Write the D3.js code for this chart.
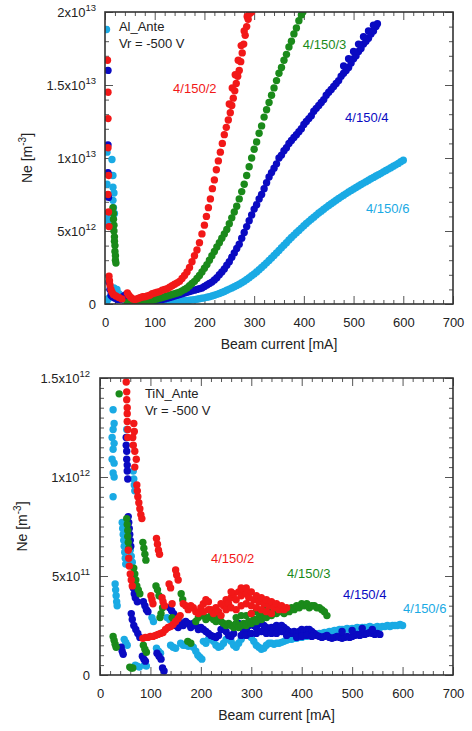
<!DOCTYPE html>
<html>
<head>
<meta charset="utf-8">
<script src="https://cdn.jsdelivr.net/npm/d3@7"></script>
<style>
  body { margin: 0; background: #fff; }
  svg { display: block; }
  text { font-family: "Liberation Sans", Arial, sans-serif; }
</style>
</head>
<body>
<svg id="chart" width="472" height="731"></svg>
<script>
// ---- tick values ----
const xTicks = [0, 100, 200, 300, 400, 500, 600, 700];
const alYTicks = [0, 5e12, 1e13, 1.5e13, 2e13];
const tinYTicks = [0, 5e11, 1e12, 1.5e12];
const seriesNames = ["4/150/2", "4/150/3", "4/150/4", "4/150/6"];

// ---- Al_Ante : [beam current mA, Ne in 1e12 m^-3] ----
const alS2 = [[5,16.7],[6,14.5],[6,12.7],[6,10.7],[7,8.8],[6,7.5],[7,6.3],[8,5.3],
  [8,1.9],[9,1.6],[10,1.3],[12,1.0],[14,0.8],[17,0.65],[22,0.55],[28,0.45],[34,0.35],
  [45,0.75],[48,0.6],[52,0.45],[56,0.35],[60,0.3],[64,0.35],[68,0.4],[72,0.45],[76,0.5],[80,0.5],
  [85,0.55],[90,0.6],[95,0.7],[100,0.75],[105,0.8],[110,0.85],[115,0.95],[120,1.0],[125,1.05],
  [130,1.15],[135,1.25],[140,1.35],[145,1.45],[150,1.55],[155,1.75],[160,1.95],[165,2.2],[170,2.5],
  [175,2.9],[180,3.3],[185,3.7],[190,4.2],[195,4.8],[200,5.4],[204,6.0],[208,6.6],[212,7.2],
  [216,7.9],[220,8.5],[224,9.2],[228,9.8],[232,10.4],[236,11.0],[240,11.6],[244,12.1],[248,12.6],
  [252,13.1],[255,13.6],[258,14.1],[261,14.6],[264,15.1],[267,15.6],[270,16.0],[273,16.6],
  [276,17.2],[279,17.8],[282,18.4],[285,19.0],[288,19.5],[291,19.9],[295,20.0],
  [250,13.7],[256,14.8],[262,15.7],[268,16.7],[274,17.7],[280,18.7],[286,19.7]];

const alS3 = [[16,6.6],[17,6.2],[17,5.8],[18,5.4],[18,5.0],[19,4.6],[19,4.3],[20,4.0],[20,3.6],
  [21,3.3],[21,3.0],[22,2.8],
  [45,0.1],[50,0.0],[55,0.05],[60,0.05],[65,0.05],[70,0.1],[75,0.1],[80,0.15],[85,0.15],[90,0.2],
  [95,0.25],[100,0.3],[105,0.35],[110,0.4],[115,0.45],[120,0.5],[125,0.55],[130,0.6],[135,0.65],
  [140,0.7],[145,0.75],[150,0.8],[155,0.9],[160,1.0],[165,1.1],[170,1.25],[175,1.4],[180,1.55],
  [185,1.75],[190,1.95],[195,2.2],[200,2.45],[205,2.7],[210,3.0],[215,3.3],[220,3.6],[225,3.9],
  [230,4.2],[235,4.5],[240,4.8],[245,5.1],[250,5.5],[255,5.9],[260,6.3],[265,6.7],[270,7.2],
  [275,7.7],[280,8.2],[285,8.8],[290,9.4],[295,10.0],[300,10.6],[305,11.1],[310,11.7],[315,12.2],
  [320,12.8],[325,13.3],[330,13.8],[335,14.3],[340,14.8],[345,15.3],[350,15.8],[355,16.2],
  [360,16.7],[365,17.1],[370,17.6],[375,18.0],[380,18.5],[385,18.9],[390,19.4],[395,19.8],[398,20.0]];

const alS4 = [[6,16.0],[6,10.9],[6,9.0],[7,7.3],
  [8,1.5],[10,1.0],[12,0.6],[15,0.5],[20,0.4],[25,0.3],[30,0.3],[36,0.5],[40,0.6],[44,0.4],
  [48,0.25],[55,0.2],[60,0.15],[65,0.1],[70,0.1],[75,0.1],[80,0.1],[85,0.15],[90,0.15],[95,0.2],
  [100,0.2],[105,0.25],[110,0.3],[115,0.3],[120,0.35],[125,0.4],[130,0.45],[135,0.5],[140,0.55],
  [145,0.6],[150,0.65],[155,0.7],[160,0.75],[165,0.8],[170,0.85],[175,0.9],[180,0.95],[185,1.0],
  [190,1.05],[195,1.1],[200,1.2],[205,1.3],[210,1.4],[215,1.5],[220,1.65],[225,1.8],[230,2.0],
  [235,2.2],[240,2.4],[245,2.65],[250,2.9],[255,3.2],[260,3.5],[265,3.8],[270,4.1],[275,4.5],
  [280,4.9],[285,5.3],[290,5.7],[295,6.1],[300,6.5],[305,6.8],[310,7.2],[315,7.5],[320,7.9],
  [325,8.3],[330,8.7],[335,9.0],[340,9.3],[345,9.6],[350,10.0],[355,10.2],[360,10.5],[365,10.7],
  [370,11.0],[375,11.2],[380,11.4],[385,11.6],[390,11.8],[395,12.0],[400,12.3],[405,12.5],
  [410,12.7],[415,12.9],[420,13.2],[425,13.4],[430,13.6],[435,13.8],[440,14.0],[445,14.3],
  [450,14.5],[455,14.7],[460,14.9],[465,15.1],[470,15.3],[475,15.6],[480,15.8],[485,16.0],
  [490,16.2],[495,16.5],[500,16.8],[505,17.0],[510,17.3],[515,17.5],[520,17.8],[525,18.0],
  [530,18.2],[535,18.5],[540,18.7],[545,19.0],[548,19.2],
  [480,16.3],[490,16.8],[500,17.3],[510,17.8],[520,18.3],[530,18.7],[540,19.1]];

const alS6 = [[3,18.8],[4,10.4],[14,9.9],[16,8.8],[4,8.2],[16,8.0],[18,7.6],[16,7.1],[17,6.6],
  [19,6.2],[4,6.0],[5,5.6],
  [4,0.2],[8,0.4],[14,0.9],[18,1.1],[24,1.0],[28,0.7],[32,0.4],[36,0.3],[40,0.2],[46,0.1],
  [50,0.0],[55,0.02],[60,0.02],[65,0.03],[70,0.03],[75,0.04],[80,0.05],[85,0.06],[90,0.07],
  [95,0.08],[100,0.1],[105,0.11],[110,0.12],[115,0.13],[120,0.14],[125,0.15],[130,0.16],
  [135,0.17],[140,0.18],[145,0.19],[150,0.2],[155,0.21],[160,0.22],[165,0.24],[170,0.26],
  [175,0.28],[180,0.3],[185,0.33],[190,0.36],[195,0.39],[200,0.42],[205,0.46],[210,0.5],
  [215,0.55],[220,0.6],[225,0.66],[230,0.72],[235,0.79],[240,0.86],[245,0.94],[250,1.02],
  [255,1.1],[260,1.18],[265,1.27],[270,1.36],[275,1.46],[280,1.56],[285,1.68],[290,1.8],
  [295,1.93],[300,2.06],[305,2.2],[310,2.35],[315,2.5],[320,2.66],[325,2.82],[330,2.98],
  [335,3.15],[340,3.32],[345,3.5],[350,3.67],[355,3.85],[360,4.02],[365,4.2],[370,4.38],
  [375,4.55],[380,4.72],[385,4.88],[390,5.04],[395,5.2],[400,5.36],[405,5.51],[410,5.66],
  [415,5.8],[420,5.95],[425,6.09],[430,6.23],[435,6.36],[440,6.49],[445,6.62],[450,6.75],
  [455,6.87],[460,6.99],[465,7.11],[470,7.23],[475,7.34],[480,7.45],[485,7.56],[490,7.67],
  [495,7.78],[500,7.88],[505,7.98],[510,8.08],[515,8.18],[520,8.28],[525,8.38],[530,8.48],
  [535,8.58],[540,8.67],[545,8.77],[550,8.86],[555,8.95],[560,9.05],[565,9.14],[570,9.24],
  [575,9.33],[580,9.43],[585,9.53],[590,9.63],[595,9.75],[600,9.85]];

// ---- TiN_Ante : [beam current mA, Ne in 1e11 m^-3] ----
const tinS2 = [[52,14.8],[53,14.3],[53,13.9],[54,13.5],[54,13.2],[54,12.8],[55,12.4],[55,12.0],
  [67,12.7],[68,12.3],[65,12.0],[66,11.6],[69,11.3],[72,10.9],[69,10.5],
  [73,9.6],[74,9.3],[75,9.0],[77,8.7],[79,8.4],[81,8.1],[83,7.9],
  [56,6.3],[57,5.9],[58,5.5],[60,5.1],[62,4.8],[64,4.5],
  [112,6.9],[114,6.6],[116,6.3],[118,6.1],
  [150,5.3],[152,5.05],[155,4.8],[137,4.6],[140,4.4],
  [101,4.0],[103,3.8],[105,3.6],[123,3.9],[125,3.7],[128,3.5],
  [85,1.85],[90,1.9],[95,1.9],[100,1.95],[105,1.95],[110,2.0],[115,2.05],[120,2.1],[125,2.15],
  [130,2.3],[135,2.4],[140,2.45],[145,2.55],[150,2.7],[155,2.85],[159,3.0],
  [143,3.6],[165,3.6],[170,3.5],
  [175,3.3],[180,3.5],[185,3.4],[190,3.2],[195,3.1],[200,3.4],[205,3.6],[210,3.8],[215,3.7],
  [220,3.3],[225,3.1],[230,3.4],[235,3.2],[240,3.0],[245,3.5],[250,3.8],[255,3.6],[260,3.9],
  [265,4.1],[270,3.8],[275,4.2],[280,4.0],[285,4.3],[290,4.1],[295,3.9],[300,4.2],[305,3.8],
  [310,4.0],[315,3.7],[320,3.9],[325,3.6],[330,3.8],[335,3.5],[340,3.7],[345,3.4],[350,3.6],
  [355,3.3],[360,3.5],[365,3.3],[370,3.4],
  [240,3.6],[250,3.3],[260,3.4],[270,3.3],[280,3.5],[290,3.6],[300,3.5],[310,3.4],[320,3.3],
  [330,3.2],[340,3.1],[260,4.2],[280,4.4],[290,4.4],[300,3.1],[215,3.3],[205,3.2]];

const tinS3 = [[38,14.2],
  [53,7.9],[54,7.6],[55,7.3],[55,7.0],[56,6.7],[57,6.4],
  [85,6.7],[87,6.4],[89,6.1],[91,5.8],
  [67,5.4],[69,5.1],[71,4.8],[73,4.5],[76,4.3],[79,4.1],
  [111,4.5],[114,4.3],[117,4.0],[161,4.1],[164,3.8],
  [124,3.4],[121,3.1],[119,2.9],[143,2.9],[147,2.7],
  [26,1.95],[28,1.75],[30,1.55],[32,1.4],
  [86,1.5],[89,1.3],[92,1.15],
  [59,0.4],[62,0.35],[65,0.35],
  [174,1.7],[180,1.6],
  [190,2.7],[195,2.9],[200,3.1],[205,3.0],[210,2.8],[215,2.9],[220,3.0],[225,2.8],[230,2.7],
  [235,2.9],[240,2.7],[245,2.6],[250,2.5],[255,2.6],[260,2.5],[265,2.4],[270,2.6],[275,2.4],
  [280,2.5],[285,2.6],[290,2.5],[295,2.7],[300,2.6],[305,2.8],[310,2.7],[315,2.9],[320,2.8],
  [325,3.0],[330,2.9],[335,3.1],[340,3.0],[345,3.2],[350,3.1],[355,3.2],[360,3.3],[365,3.1],
  [370,3.3],[375,3.2],[380,3.4],[385,3.3],[390,3.5],[395,3.4],[400,3.6],[405,3.5],[410,3.6],
  [415,3.4],[420,3.5],[425,3.5],[430,3.4],[435,3.4],[440,3.3],[445,3.2],[450,3.0],
  [270,2.9],[280,3.0],[290,3.0],[300,3.1],[310,3.2],[320,3.2],[330,3.3],[340,3.3],[350,3.4]];

const tinS4 = [[52,12.0],[52,11.6],[53,11.3],[53,10.9],[54,10.6],[54,10.3],[55,9.9],
  [56,8.0],[57,7.7],[58,7.4],[59,7.1],[60,6.8],[61,6.5],
  [66,4.4],[68,4.1],[70,3.9],[74,3.7],[86,3.7],[89,3.5],[92,3.3],[95,3.2],
  [62,3.1],[64,2.8],[67,2.5],[71,2.3],[75,2.1],[79,1.9],
  [42,1.4],[44,1.2],[46,1.05],[84,0.95],[87,0.8],[90,0.7],
  [113,1.1],[117,0.95],[121,0.8],[124,0.35],[127,0.2],
  [138,3.4],[142,3.25],[146,3.1],
  [150,2.5],[155,2.4],[160,2.6],[165,2.5],[170,2.7],[175,2.6],[180,2.4],[185,2.6],[190,2.5],
  [195,2.3],[200,2.4],[205,2.3],[210,2.2],[215,2.1],[220,2.0],[225,1.95],[230,1.9],[235,2.0],
  [240,2.3],[245,2.4],[250,2.2],[255,2.0],[260,1.95],[265,2.1],[270,2.5],[275,2.6],[280,2.4],
  [285,2.2],[290,2.3],[295,2.5],[300,2.6],[305,2.5],[310,2.4],[315,2.6],[320,2.6],[325,2.5],
  [330,2.4],[335,2.3],[340,2.4],[345,2.4],[350,2.5],[355,2.4],[360,2.5],[365,2.4],[370,2.3],
  [375,2.2],[380,2.1],[385,2.2],[390,2.1],[395,2.2],[400,2.3],[405,2.2],[410,2.3],[415,2.3],
  [420,2.2],[425,2.1],[430,2.0],[435,1.95],[440,1.9],[445,1.95],[450,2.0],[455,1.9],[460,1.85],
  [465,1.9],[470,1.95],[475,1.9],[480,1.85],[485,1.9],[490,1.95],[495,1.9],[500,1.95],[505,2.0],
  [510,2.05],[515,2.0],[520,2.1],[525,2.05],[530,2.1],[535,2.15],[540,2.1],[545,2.05],[550,2.1],
  [555,2.05],
  [280,2.0],[290,2.0],[300,2.1],[310,2.1],[320,2.2],[330,2.1],[340,2.1],[350,2.1],[360,2.2],
  [370,2.0],[390,1.9],[400,1.95],[410,2.0],[420,1.95],[480,2.2],[500,2.25],[520,2.35],[540,2.3]];

const tinS6 = [[26,13.4],[28,12.7],[26,12.4],[24,12.0],[28,11.7],[26,11.4],[24,10.9],[28,10.7],
  [26,10.2],[28,10.0],[26,9.0],[53,12.4],
  [66,10.3],[67,9.9],[68,9.6],[69,9.3],
  [44,7.7],[45,7.4],[46,7.1],[47,6.8],[48,6.5],[49,6.2],[50,5.9],[51,5.6],
  [60,6.3],[62,6.0],[64,5.7],
  [30,4.6],[31,4.3],[32,4.0],[33,3.7],[34,3.5],
  [48,1.8],[51,1.65],[54,1.5],
  [70,0.5],[74,0.45],[78,0.4],[88,0.5],[92,0.45],
  [103,2.9],[106,2.7],[112,1.35],[116,1.2],[120,1.1],
  [133,2.9],[138,2.8],[145,2.7],[152,2.6],[158,2.7],
  [140,1.5],[145,1.4],[150,1.35],
  [160,1.6],[165,1.5],[170,1.5],[175,1.45],[180,1.5],[185,1.4],[190,1.2],[194,1.0],[198,0.9],[202,0.8],
  [205,1.7],[210,1.6],[215,1.8],[220,1.9],[225,1.7],[230,1.5],[235,1.4],[240,1.45],[245,1.6],
  [250,1.8],[255,1.9],[260,1.7],[265,1.5],[270,1.4],[275,1.6],[280,1.8],[285,2.0],[290,2.2],
  [295,2.1],[300,1.9],[305,1.7],[310,1.5],[315,1.4],[320,1.3],[325,1.35],[330,1.5],[335,1.6],
  [340,1.6],[345,1.55],[350,1.6],[355,1.6],[360,1.65],[365,1.7],[370,1.75],[375,1.8],[380,1.8],
  [385,1.85],[390,1.85],[395,1.9],[400,1.9],[405,1.95],[410,1.95],[415,2.0],[420,2.0],[425,2.05],
  [430,2.05],[435,2.1],[440,2.1],[445,2.15],[450,2.15],[455,2.2],[460,2.2],[465,2.25],[470,2.25],
  [475,2.3],[480,2.3],[485,2.3],[490,2.35],[495,2.3],[500,2.35],[505,2.35],[510,2.4],[515,2.35],
  [520,2.4],[525,2.4],[530,2.4],[535,2.45],[540,2.4],[545,2.4],[550,2.45],[555,2.4],[560,2.45],
  [565,2.45],[570,2.5],[575,2.45],[580,2.5],[585,2.5],[590,2.5],[595,2.55],[600,2.5]];

const colors = {"4/150/2": "#f21818", "4/150/3": "#1a8a1a", "4/150/4": "#0a0ac2", "4/150/6": "#1aaae4"};

const svg = d3.select("#chart");

function supLabel(sel, v) {
  // "1.5x10^13" style labels
  sel.text(null);
  if (v === 0) { sel.text("0"); return; }
  const e = Math.floor(Math.log10(v) + 1e-9);
  const m = +(v / Math.pow(10, e)).toFixed(2);
  sel.append("tspan").text(m + "x10");
  sel.append("tspan").attr("dy", -6).attr("font-size", "9.5px").text(e);
}

function panel(o) {
  const g = svg.append("g");
  const x = d3.scaleLinear().domain([0, 700]).range([o.left, o.right]);
  const y = d3.scaleLinear().domain([0, o.yMax]).range([o.bottom, o.top]);

  const xMinor = d3.range(0, 701, 20).filter(v => v % 100 !== 0);
  const nMinor = Math.round(o.yMax / o.yStep);
  const per = Math.round(o.yTicks[1] / o.yStep);
  const yMinor = d3.range(0, nMinor + 1).filter(k => k % per !== 0).map(k => k * o.yStep);

  const tickStyle = a => {
    a.select(".domain").remove();
    a.selectAll(".tick line").attr("stroke", "#555");
    a.selectAll("text").attr("font-size", "13px").attr("fill", "#222").attr("font-family", "Liberation Sans, Arial, sans-serif");
  };

  // x axes (bottom + top)
  g.append("g").attr("transform", `translate(0,${o.bottom})`)
    .call(d3.axisBottom(x).tickValues(xTicks).tickSize(-8).tickPadding(14).tickFormat(d3.format("d")))
    .call(tickStyle);
  g.append("g").attr("transform", `translate(0,${o.bottom})`)
    .call(d3.axisBottom(x).tickValues(xMinor).tickSize(-4).tickFormat("")).call(tickStyle);
  g.append("g").attr("transform", `translate(0,${o.top})`)
    .call(d3.axisTop(x).tickValues(xTicks).tickSize(-8).tickFormat("")).call(tickStyle);
  g.append("g").attr("transform", `translate(0,${o.top})`)
    .call(d3.axisTop(x).tickValues(xMinor).tickSize(-4).tickFormat("")).call(tickStyle);

  // y axes (left + right)
  const yl = g.append("g").attr("transform", `translate(${o.left},0)`)
    .call(d3.axisLeft(y).tickValues(o.yTicks).tickSize(-8).tickPadding(o.yPad))
    .call(tickStyle);
  yl.selectAll(".tick text").each(function(d) { supLabel(d3.select(this), d); });
  g.append("g").attr("transform", `translate(${o.left},0)`)
    .call(d3.axisLeft(y).tickValues(yMinor).tickSize(-4).tickFormat("")).call(tickStyle);
  g.append("g").attr("transform", `translate(${o.right},0)`)
    .call(d3.axisRight(y).tickValues(o.yTicks).tickSize(-8).tickFormat("")).call(tickStyle);
  g.append("g").attr("transform", `translate(${o.right},0)`)
    .call(d3.axisRight(y).tickValues(yMinor).tickSize(-4).tickFormat("")).call(tickStyle);

  // dots
  const clipId = "clip" + o.id;
  g.append("clipPath").attr("id", clipId).append("rect")
    .attr("x", o.left).attr("y", o.top).attr("width", o.right - o.left).attr("height", o.bottom - o.top);
  const dots = g.append("g").attr("clip-path", `url(#${clipId})`);
  o.series.forEach(s => {
    dots.append("g").selectAll("circle")
      .data(s.data)
      .enter()
      .append("circle")
      .attr("cx", d => x(d[0]))
      .attr("cy", d => y(d[1] * o.unit))
      .attr("r", 3.7)
      .attr("fill", colors[s.name]);
  });

  // frame
  g.append("rect").attr("x", o.left).attr("y", o.top)
    .attr("width", o.right - o.left).attr("height", o.bottom - o.top)
    .attr("fill", "none").attr("stroke", "#333").attr("stroke-width", 1.6);

  // annotations
  g.append("text").attr("x", x(o.note[0])).attr("y", y(o.note[1] * o.unit))
    .attr("font-size", "13px").attr("fill", "#222").text(o.title);
  g.append("text").attr("x", x(o.note[0])).attr("y", y(o.note[2] * o.unit))
    .attr("font-size", "13px").attr("fill", "#222").text("Vr = -500 V");
  o.labels.forEach(l => {
    g.append("text").attr("x", x(l[1])).attr("y", y(l[2] * o.unit))
      .attr("font-size", "13px").attr("fill", colors[l[0]]).text(l[0]);
  });

  // axis titles
  g.append("text").attr("x", (o.left + o.right) / 2).attr("y", o.bottom + 45)
    .attr("text-anchor", "middle").attr("font-size", "14px").attr("fill", "#222")
    .text("Beam current [mA]");
  const yt = g.append("text")
    .attr("transform", `translate(${o.yTitleX},${(o.top + o.bottom) / 2}) rotate(-90)`)
    .attr("text-anchor", "middle").attr("font-size", "14px").attr("fill", "#222");
  yt.append("tspan").text("Ne [m");
  yt.append("tspan").attr("dy", -6).attr("font-size", "10px").text("-3");
  yt.append("tspan").attr("dy", 6).text("]");
}

panel({
  id: "al", left: 105, right: 453, top: 12, bottom: 304,
  yMax: 2e13, yTicks: alYTicks, yStep: 1e12, yPad: 9, unit: 1e12, yTitleX: 32,
  title: "Al_Ante", note: [28, 18.7, 17.55],
  series: [
    { name: "4/150/6", data: alS6 },
    { name: "4/150/4", data: alS4 },
    { name: "4/150/3", data: alS3 },
    { name: "4/150/2", data: alS2 }
  ],
  labels: [[seriesNames[0], 137, 14.45], [seriesNames[1], 398, 17.47],
           [seriesNames[2], 483, 12.47], [seriesNames[3], 525, 6.23]]
});

panel({
  id: "tin", left: 100, right: 453, top: 378, bottom: 675,
  yMax: 1.5e12, yTicks: tinYTicks, yStep: 5e10, yPad: 10, unit: 1e11, yTitleX: 27,
  title: "TiN_Ante", note: [89, 14.0, 13.13],
  series: [
    { name: "4/150/6", data: tinS6 },
    { name: "4/150/4", data: tinS4 },
    { name: "4/150/3", data: tinS3 },
    { name: "4/150/2", data: tinS2 }
  ],
  labels: [[seriesNames[0], 220, 5.66], [seriesNames[1], 371, 4.9],
           [seriesNames[2], 482, 3.84], [seriesNames[3], 601, 3.13]]
});
</script>
</body>
</html>
